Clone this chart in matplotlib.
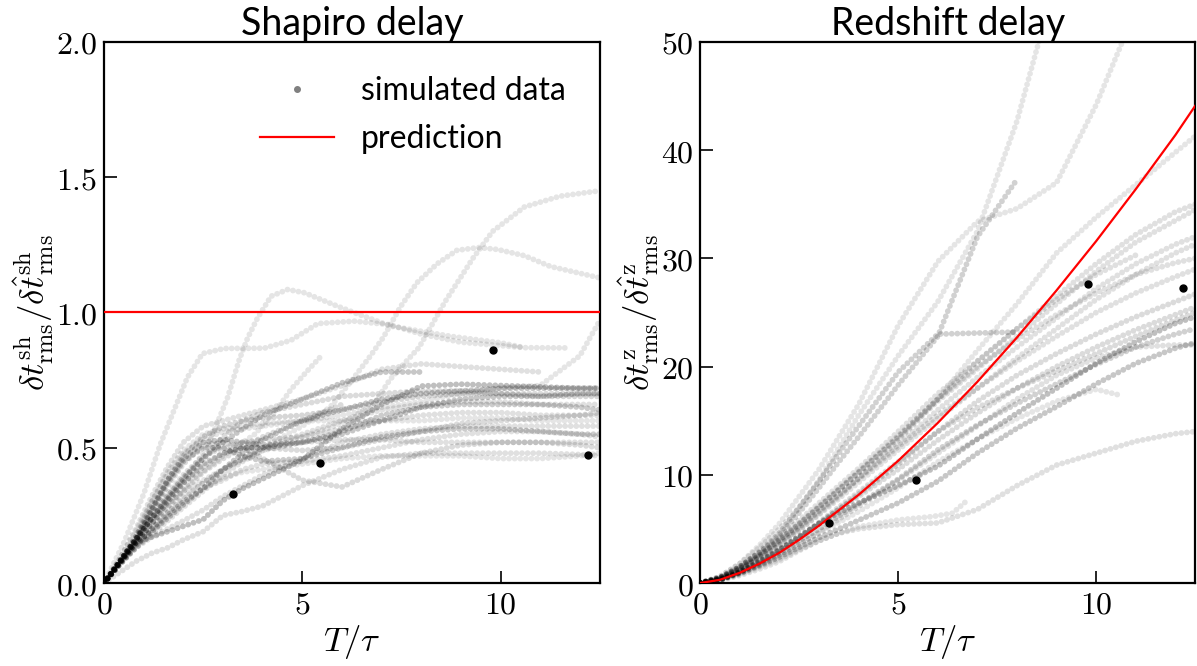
import numpy as np
import matplotlib
matplotlib.use("Agg")
import matplotlib.pyplot as plt

plt.rcParams['mathtext.fontset'] = 'cm'
plt.rcParams['font.family'] = ['Lato', 'DejaVu Sans']

# ---------------- Shapiro delay (left) ----------------
sh_t = [0, 0.4, 0.8, 1.2, 1.6, 2.0, 2.5, 3, 3.5, 4, 5, 6, 7, 8, 9, 10, 11, 12, 12.5]
sh_runs = [
    [0, .075, .147, .17, .19, .21, .235, .305, .35, .385, .455, .57, .66, .728, .735, .73, .725, .72, .72],
    [0, .04, .08, .11, .13, .16, .19, .25, .265, .285, .36, .42, .465, .48, .48, .48, .48, .475, .47],
    [0, .08, .16, .26, .36, .44, .51, .52, .50, .46, .38, .355, .42, .48, .51, .52, .52, .51, .50],
    [0, .08, .16, .25, .33, .40, .47, .50, .52, .53, .54, .57, .60, .62, .63, .63, .62, .62, .62],
    [0, .08, .17, .28, .38, .46, .52, .53, .52, .51, .52, .55, .60, .65, .68, .69, .69, .70, .70],
    [0, .07, .14, .20, .26, .31, .37, .42, .46, .50, .55, .60, .64, .66, .67, .67, .66, .66, .66],
    [0, .075, .15, .19, .24, .29, .35, .42, .48, .53, .60, .64, .68, .70, .71, .72, .72, .72, .72],
    [0, .08, .16, .27, .37, .45, .50, .50, .47, .45, .46, .50, .54, .56, .57, .57, .56, .55, .55],
    [0, .07, .13, .17, .20, .23, .27, .32, .36, .40, .46, .52, .55, .57, .58, .58, .58, .58, .58],
    [0, .08, .17, .30, .41, .49, .55, .57, .58, .59, .60, .60, .60, .60, .61, .61, .60, .60, .60],
    [0, .075, .15, .22, .30, .37, .44, .48, .50, .50, .52, .56, .62, .65, .66, .66, .66, .65, .64],
    [0, .07, .13, .18, .23, .28, .34, .40, .45, .49, .52, .53, .53, .52, .52, .52, .52, .52, .52],
    [0, .08, .16, .24, .32, .39, .46, .52, .57, .62, .68, .74, .78, .78],
    [0, .08, .15, .22, .28, .34, .41, .46, .50, .54, .60, .66],
    [0, .09, .19, .30, .40, .48, .53, .56, .57, .58, .60, .62, .65, .67, .70, .72, .73, .84, .97],
    [0, .09, .20, .32, .43, .52, .58, .60, .62, .64, .68, .73, .79, .81, .80, .79, .78],
    [0, .08, .16, .24, .31, .37, .43, .48, .50, .50, .49, .50, .53, .56, .59, .60, .61, .62, .63],
    [0, .075, .14, .20, .25, .30, .35, .38, .42, .44, .45, .47, .50, .53, .55, .56, .56, .55, .54],
    [0, .08, .16, .27, .38, .47, .54, .58, .60, .61, .62, .64, .67, .69, .70, .70, .69, .69, .69],
    [0, .07, .13, .19, .25, .30, .35, .39, .41, .42, .44, .46, .47, .47, .47, .46, .46, .47, .48],
    [0, .08, .16, .24, .31, .38, .46, .54, .60, .63, .66, .69, .70, .71, .71, .70, .70, .70, .70],
]
sh_alpha = [.25, .12, .14, .12, .22, .12, .22, .2, .12, .1, .2, .12, .22, .14, .1, .12, .14, .12, .16, .1, .14]

# runs sampled at their own times
sh_t_a = [0, 0.5, 1, 1.5, 2, 3, 4, 5, 6, 6.8, 7.2, 7.5, 7.94, 8.6, 9.3, 9.8, 10.6, 11.5, 12.5]
sh_y_a = [0, .1, .2, .28, .34, .42, .49, .54, .59, .66, .75, .8, .87, 1.04, 1.2, 1.3, 1.39, 1.43, 1.45]
sh_t_b = [0, 1, 2, 3, 4, 5, 5.7, 6.2, 6.72, 7.05, 7.47, 7.89, 8.4, 8.9, 9.45, 9.92, 10.6, 11.26, 11.94, 12.5]
sh_y_b = [0, .17, .32, .42, .5, .58, .65, .74, .84, .91, 1.02, 1.11, 1.18, 1.23, 1.24, 1.233, 1.21, 1.17, 1.147, 1.128]
sh_t_c = [0, 0.8, 1.5, 2.2, 3, 3.8, 4.3, 4.71, 5.1, 5.48]
sh_y_c = [0, .15, .27, .38, .47, .55, .63, .715, .78, .84]
sh_t_d = [0, 0.5, 1, 1.5, 2, 2.6, 3.11, 3.41, 3.62, 3.87, 4.21, 4.63, 5.05, 5.89, 6.3, 7.22, 8.74, 10, 10.6, 11.7]
sh_y_d = [0, .1, .2, .29, .38, .5, .684, .826, .906, .98, 1.06, 1.085, 1.073, 1.023, 1.0, .95, .912, .888, .87, .869]
sh_t_e = [0, 0.5, 1, 1.41, 1.75, 2.1, 2.48, 3.03, 4.04, 4.71, 5.39, 6.31, 7.2, 8, 9, 10.6]
sh_y_e = [0, .15, .33, .51, .634, .76, .848, .867, .868, .897, .959, .968, .955, .92, .89, .87]
sh_extra = [(sh_t_a, sh_y_a), (sh_t_b, sh_y_b), (sh_t_c, sh_y_c), (sh_t_d, sh_y_d), (sh_t_e, sh_y_e)]

sh_obs_t = [3.25, 5.45, 9.8, 12.2]
sh_obs_y = [0.33, 0.445, 0.86, 0.475]
sh_pred_t = [0, 12.5]
sh_pred_y = [1.0, 1.0]

# ---------------- Redshift delay (right) ----------------
z_t = [0, 0.5, 1, 1.5, 2, 2.5, 3, 3.5, 4, 5, 6, 7, 8, 9, 10, 11, 12, 12.5]
z_runs = [
    # upper group
    [0, .5, 1.5, 2.8, 4.2, 5.8, 7.4, 9.0, 10.6, 14.0, 17.5, 20.5, 23.5, 26.5, 29.5, 32.2, 34.3, 35.0],
    [0, .5, 1.4, 2.6, 4.0, 5.5, 7.0, 8.6, 10.2, 13.4, 16.8, 19.8, 22.8, 25.8, 28.8, 31.5, 33.5, 34.5],
    [0, .45, 1.3, 2.5, 3.8, 5.2, 6.7, 8.2, 9.7, 12.8, 16.0, 19.0, 21.8, 24.5, 27.2, 29.5, 31.3, 32.0],
    [0, .45, 1.3, 2.5, 3.9, 5.4, 7.0, 8.6, 10.2, 13.5, 17, 20, 22.5, 24.8, 26.8, 28.5, 29.6, 30.0],
    [0, .45, 1.4, 2.6, 4.0, 5.5, 7.1, 8.7, 10.3, 13.6, 17, 20.5, 23.5, 26.2, 28.5, 30.3],
    [0, .4, 1.3, 2.4, 3.7, 5.1, 6.6, 8.1, 9.6, 12.6, 15.5, 18.0, 20.5, 22.8, 25.0, 26.8, 28.3, 29.0],
    [0, .4, 1.2, 2.3, 3.5, 4.9, 6.3, 7.8, 9.3, 12.3, 15.2, 18.0, 20.8, 23.5, 26.2, 28.5, 30.5, 31.3],
    [0, .5, 1.5, 2.9, 4.6, 7.0, 9.4, 12.0, 14.5, 19.5, 23.0, 23.1, 23.2],
    [0, .5, 1.5, 2.8, 4.4, 6.5, 8.8, 11.2, 13.5, 18.3, 22.8, 32, 37.3],
    # sparse fast runs
    [0, .6, 1.8, 3.3, 5.0, 7.0, 9.5, 12.5, 15.5, 21, 26, 32.5, 42.7, 56],
    [0, .6, 1.8, 3.5, 5.5, 8.0, 10.5, 13.5, 16.5, 23.8, 29.7, 33.4, 34.6, 37, 44.2, 53],
    [0, .4, 1.2, 2.3, 3.5, 4.9, 6.4, 8, 9.7, 13.2, 17, 21.5, 25.8, 30.5, 33.8, 36.8, 39.8, 41.3],
    # middle group
    [0, .3, 1.0, 2.0, 3.1, 4.3, 5.5, 6.5, 7.4, 9.0, 10.8, 13.3, 15.7, 18, 20.3, 22.3, 24, 24.6],
    [0, .3, .9, 1.6, 2.4, 3.3, 4.2, 5.0, 5.8, 7.4, 9.4, 12.0, 14.3, 16.3, 18.4, 20.3, 21.7, 22.2],
    [0, .3, 1.0, 1.8, 2.8, 3.9, 5.0, 6.2, 7.3, 9.6, 12.3, 14.6, 16.6, 18.4, 20.2, 21.8, 23, 23.5],
    [0, .35, 1.0, 1.9, 3.0, 4.2, 5.5, 6.8, 8.0, 10.5, 13.2, 15.7, 18.0, 20.0, 21.8, 23.4, 24.8, 25.5],
    [0, .35, 1.1, 2.0, 3.1, 4.3, 5.6, 7.0, 8.4, 11.2, 14, 16.2, 18, 19.6, 21.2, 22.8, 24.3, 25],
    [0, .35, 1.0, 1.9, 3.0, 4.2, 5.5, 6.8, 8.2, 11, 14, 16.8, 19.2, 21.2, 23, 24.6, 26, 26.7],
    [0, .3, .9, 1.7, 2.6, 3.6, 4.7, 5.9, 7.1, 9.5, 12.0, 14.5, 17.0, 19.2, 20.8, 21.8, 22, 22],
    # low group
    [0, .25, .7, 1.3, 2.0, 3.0, 3.9, 4.6, 5.0, 5.4, 5.55, 6.8, 9.0, 10.9, 12.0, 13.1, 13.8, 14.0],
]
z_alpha = [.12, .12, .12, .12, .12, .12, .12, .18, .18,
           .1, .1, .1,
           .25, .22, .18, .14, .14, .14, .12,
           .12]

z_t_a = [0, .5, 1, 1.5, 2, 2.5, 3, 3.5, 4, 5, 5.86, 6.37, 6.7]
z_y_a = [0, .25, .8, 1.5, 2.2, 3.1, 3.9, 4.6, 5.2, 5.83, 6.14, 6.45, 7.5]
z_t_b = [0, .5, 1, 1.5, 2, 2.5, 3, 3.5, 4, 5, 6, 7, 8, 9, 10, 10.55]
z_y_b = [0, .3, .9, 1.7, 2.6, 3.6, 4.6, 5.6, 6.6, 8.8, 11.2, 13.3, 15.2, 16.8, 17.9, 17.4]
z_extra = [(z_t_a, z_y_a), (z_t_b, z_y_b)]

z_obs_t = [3.25, 5.45, 9.8, 12.2]
z_obs_y = [5.5, 9.5, 27.6, 27.3]
z_pred_t = [0, 0.5, 1, 1.5, 2, 2.5, 3, 4, 5, 6, 7, 8, 9, 10, 11, 12, 12.5]
z_pred_y = [0, 0.3, 0.95, 1.8, 2.8, 4.0, 5.3, 8.15, 11.3, 14.8, 18.6, 22.7, 27.05, 31.6, 36.4, 41.4, 44.1]

dot_style = dict(color='k', lw=4.2, linestyle=(0, (0.01, 0.95)), dash_capstyle='round')


def draw_panel(ax, t, runs, alphas, extra, obs_t, obs_y, pred_t, pred_y):
    for y, a in zip(runs, alphas):
        ax.plot(t[:len(y)], y, alpha=a, **dot_style)
    for tx, ty in extra:
        ax.plot(tx, ty, alpha=0.1, **dot_style)
    ax.plot(pred_t, pred_y, color='red', lw=1.6, zorder=4)
    ax.plot(obs_t, obs_y, 'o', color='k', ms=5, zorder=5)
    ax.set_xlim(0, 12.5)
    ax.set_xticks([0, 5, 10])
    ax.set_xticklabels(['$0$', '$5$', '$10$'])
    ax.tick_params(direction='in', length=9, width=1.2, labelsize=23, pad=5)
    for s in ax.spines.values():
        s.set_linewidth(1.6)
    ax.set_xlabel(r'$T/\tau$', fontsize=25, labelpad=2)


fig = plt.figure(figsize=(11.97, 6.66), dpi=100)
ax1 = fig.add_axes([0.087, 0.1246, 0.414, 0.8124])
ax2 = fig.add_axes([0.585, 0.1246, 0.4135, 0.8124])

draw_panel(ax1, sh_t, sh_runs, sh_alpha, sh_extra, sh_obs_t, sh_obs_y, sh_pred_t, sh_pred_y)
ax1.set_ylim(0, 2)
ax1.set_yticks([0, 0.5, 1.0, 1.5, 2.0])
ax1.set_yticklabels(['$0.0$', '$0.5$', '$1.0$', '$1.5$', '$2.0$'])
ax1.set_ylabel(r'$\delta t^{\rm sh}_{\rm rms}/\delta \hat{t}^{\rm sh}_{\rm rms}$', fontsize=25, labelpad=0)
ax1.set_title('Shapiro delay', fontsize=27, pad=3)
ax1.plot([], [], 'o', color='0.5', ms=4, label='simulated data')
ax1.plot([], [], color='red', lw=1.6, label='prediction')
ax1.legend(loc='upper right', bbox_to_anchor=(0.99, 0.99), frameon=False, fontsize=23,
           handlelength=2.3, handletextpad=0.85, labelspacing=0.55)

draw_panel(ax2, z_t, z_runs, z_alpha, z_extra, z_obs_t, z_obs_y, z_pred_t, z_pred_y)
ax2.set_ylim(0, 50)
ax2.set_yticks([0, 10, 20, 30, 40, 50])
ax2.set_yticklabels(['$0$', '$10$', '$20$', '$30$', '$40$', '$50$'])
ax2.set_ylabel(r'$\delta t^{\rm z}_{\rm rms}/\delta \hat{t}^{\rm z}_{\rm rms}$', fontsize=25, labelpad=0)
ax2.set_title('Redshift delay', fontsize=27, pad=3)

fig.savefig('out.png', dpi=100)
